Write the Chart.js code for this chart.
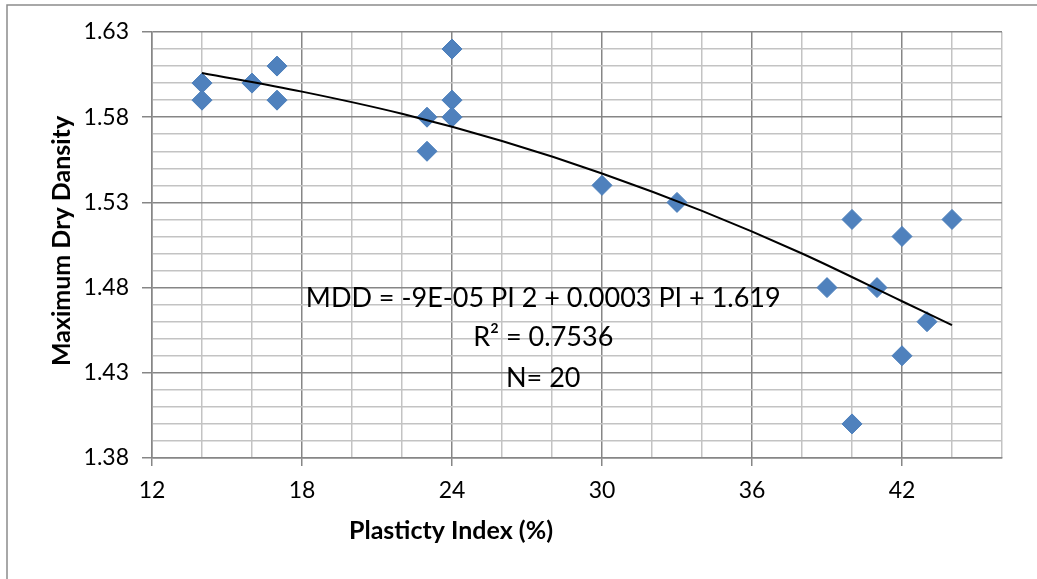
<!DOCTYPE html>
<html>
<head>
<meta charset="utf-8">
<script src="https://cdn.jsdelivr.net/npm/chart.js@4"></script>
<style>
  html, body { margin: 0; padding: 0; background: #fff; }
  #wrap { width: 1037px; height: 579px; }
</style>
</head>
<body>
<div id="wrap"><canvas id="chart-mdd" width="1037" height="579"></canvas></div>
<script>
// observed samples: plasticity index vs max dry density
const piValues = [14, 14, 16, 17, 17, 23, 23, 24, 24, 24, 30, 33, 39, 40, 40, 41, 42, 42, 43, 44];
const mddValues = [1.60, 1.59, 1.60, 1.61, 1.59, 1.58, 1.56, 1.62, 1.59, 1.58, 1.54, 1.53, 1.48, 1.52, 1.40, 1.48, 1.51, 1.44, 1.46, 1.52];

// polynomial trendline
const trendPi = [14, 18, 22, 26, 30, 34, 38, 42, 44];
const trendMdd = [1.606, 1.595, 1.582, 1.566, 1.547, 1.525, 1.500, 1.472, 1.458];

const annotationLines = ["MDD = -9E-05 PI 2 + 0.0003 PI + 1.619", "R\u00b2 = 0.7536", "N= 20"];
const xTitle = "Plasticty Index (%)";
const yTitle = "Maximum Dry Dansity";

const MAJOR = "#868686";
const MINOR = "#c3c3c3";
const FONT = "Lato, 'Open Sans', sans-serif";

function isMajorX(v) { return (v - 12) % 6 === 0; }
function isMajorY(v) { return Math.round((v - 1.38) * 100) % 5 === 0; }

const extrasPlugin = {
  id: "extras",
  beforeDraw(chart) {
    const c = chart.ctx;
    c.save();
    c.fillStyle = "#fff";
    c.fillRect(0, 0, chart.width, chart.height);
    // outer frame (only top and left edges show)
    c.strokeStyle = "#8c8c8c";
    c.lineWidth = 1.5;
    c.beginPath();
    c.moveTo(7, chart.height);
    c.lineTo(7, 5);
    c.lineTo(chart.width, 5);
    c.stroke();
    c.restore();
  },
  afterDraw(chart) {
    const c = chart.ctx;
    const xs = chart.scales.x, ys = chart.scales.y;
    c.save();
    c.fillStyle = "#000";
    c.textAlign = "center";
    c.textBaseline = "middle";
    c.font = "27px " + FONT;
    const ax = xs.getPixelForValue(27.65);
    const ay = [1.474, 1.451, 1.427];
    annotationLines.forEach(function (t, i) {
      c.fillText(t, ax, ys.getPixelForValue(ay[i]));
    });
    // axis titles
    c.font = "bold 25px " + FONT;
    c.fillText(xTitle, 451, 531);
    c.translate(62, 241);
    c.rotate(-Math.PI / 2);
    c.fillText(yTitle, 0, 0);
    c.restore();
  }
};

const ctx = document.getElementById("chart-mdd");
new Chart(ctx, {
  type: "scatter",
  data: {
    datasets: [
      {
        label: "MDD",
        data: piValues.map(function (x, i) { return { x: x, y: mddValues[i] }; }),
        pointStyle: "rectRot",
        pointRadius: 10,
        pointHoverRadius: 10,
        backgroundColor: "#4f81bd",
        borderColor: "#4a7ebb",
        borderWidth: 1,
        order: 2
      },
      {
        label: "Trend",
        type: "line",
        data: trendPi.map(function (x, i) { return { x: x, y: trendMdd[i] }; }),
        borderColor: "#000",
        borderWidth: 2,
        pointRadius: 0,
        fill: false,
        cubicInterpolationMode: "monotone",
        order: 1
      }
    ]
  },
  options: {
    responsive: false,
    animation: false,
    layout: { padding: { left: 0, top: 32, right: 35, bottom: 0 } },
    plugins: { legend: { display: false }, tooltip: { enabled: false } },
    scales: {
      x: {
        type: "linear",
        min: 12,
        max: 46,
        afterFit: function (s) { s.height = 121; },
        ticks: {
          stepSize: 2,
          autoSkip: false,
          maxRotation: 0,
          padding: 11,
          color: "#000",
          font: { family: FONT, size: 23 },
          callback: function (v) { return isMajorX(v) && v <= 42 ? String(v) : ""; }
        },
        grid: {
          color: function (c) { return isMajorX(c.tick.value) ? MAJOR : MINOR; },
          tickColor: function (c) { return isMajorX(c.tick.value) ? MAJOR : "rgba(0,0,0,0)"; },
          lineWidth: 1.5,
          tickLength: 8
        },
        border: { color: MAJOR, width: 1.5 }
      },
      y: {
        min: 1.38,
        max: 1.63,
        afterFit: function (s) { s.width = 152; },
        ticks: {
          stepSize: 0.01,
          autoSkip: false,
          padding: 13,
          color: "#000",
          font: { family: FONT, size: 23 },
          callback: function (v) { return isMajorY(v) ? v.toFixed(2) : ""; }
        },
        grid: {
          color: function (c) { return isMajorY(c.tick.value) ? MAJOR : MINOR; },
          tickColor: function (c) { return isMajorY(c.tick.value) ? MAJOR : "rgba(0,0,0,0)"; },
          lineWidth: 1.5,
          tickLength: 10
        },
        border: { color: MAJOR, width: 1.5 }
      }
    }
  },
  plugins: [extrasPlugin]
});
</script>
</body>
</html>
